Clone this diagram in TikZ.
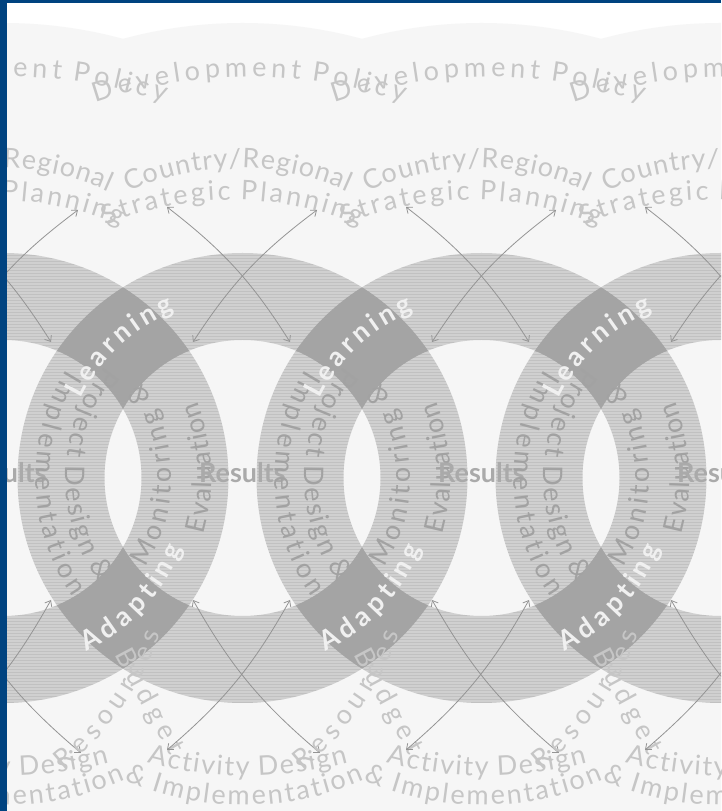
\documentclass[tikz,border=0pt]{standalone}
\usepackage{fontspec}
\setmainfont{Lato}
\usetikzlibrary{decorations.text, arrows.meta}

\definecolor{frameblue}{RGB}{0,67,128}
\definecolor{hazegray}{RGB}{246,246,246}
\definecolor{bandgray}{RGB}{208,208,208}
\definecolor{overlapgray}{RGB}{164,164,164}
\definecolor{toptxt}{RGB}{198,198,198}
\definecolor{bandtxt}{RGB}{162,162,162}
\definecolor{diamondtxt}{RGB}{240,240,240}
\definecolor{resulttxt}{RGB}{170,170,170}
\definecolor{arrowgray}{RGB}{148,148,148}

\newcommand\sz{\fontsize{27}{30}\selectfont}
% tracking between letters on the arcs
\newcommand\trackgap{0pt}
\newcommand\tr{\kern\trackgap}
% annulus: outer circle anticlockwise, inner circle clockwise
\newcommand\annulus[1]{(#1,333) circle (225) ({#1+138},333) arc[start angle=0, end angle=-360, radius=138]}

\begin{document}
\begin{tikzpicture}[x=1pt, y=1pt,
    band/.style={fill=bandgray},
    overlap/.style={fill=overlapgray},
    hatch/.style={draw=black, opacity=0.07, line width=1pt},
    loop/.style={<->, >={Straight Barb[length=5pt, width=8pt]}, draw=arrowgray, line width=0.8pt},
    arctext/.style={decorate, decoration={text along path, text align=center, text color=#1}}]

    \useasboundingbox (0,0) rectangle (721,811);
    \clip (0,0) rectangle (721,811);
    \fill[white] (0,0) rectangle (721,811);

    % 1. faint haze round the chain
    \foreach \k in {-1,...,2}
        \fill[hazegray] ({242.5+239*\k},333) circle (455);

    % 2. the ring bands, one ring every 239pt
    \foreach \k in {-1,...,2} {
        \pgfmathsetmacro\cx{242.5+239*\k}
        \fill[band] \annulus{\cx};
    }

    % horizontal hatching inside each band
    \foreach \k in {-1,...,2} {
        \pgfmathsetmacro\cx{242.5+239*\k}
        \begin{scope}
            \clip \annulus{\cx};
            \foreach \yy in {108,111,...,558}
                \draw[hatch] (\cx-225,\yy) -- (\cx+225,\yy);
        \end{scope}
    }

    % 3. darker overlap of two neighbouring rings (Learning / Adapting)
    \foreach \k in {-1,...,1} {
        \pgfmathsetmacro\cx{242.5+239*\k}
        \pgfmathsetmacro\nx{\cx+239}
        \begin{scope}
            \clip \annulus{\cx};
            \fill[overlap] \annulus{\nx};
        \end{scope}
    }

    % 4. texts and arrows of each ring
    \foreach \k in {-1,...,2} {
        \pgfmathsetmacro\cx{242.5+239*\k}
        \pgfmathsetmacro\px{\cx-239}
        \coordinate (ring\k) at (\cx,333);

        % texts on the bands
        \def\trackgap{2.4pt}
        \path[arctext=bandtxt, decoration={text={|\sz|P{\tr}r{\tr}o{\tr}j{\tr}e{\tr}c{\tr}t{\tr} D{\tr}e{\tr}s{\tr}i{\tr}g{\tr}n{\tr} {\&}}}]
            ([shift={(\cx,333)}]137:177) arc[start angle=137, end angle=219.5, radius=177];
        \def\trackgap{4.2pt}
        \path[arctext=bandtxt, decoration={text={|\sz|I{\tr}m{\tr}p{\tr}l{\tr}e{\tr}m{\tr}e{\tr}n{\tr}t{\tr}a{\tr}t{\tr}i{\tr}o{\tr}n}}]
            ([shift={(\cx,333)}]147:207) arc[start angle=147, end angle=216.5, radius=207];
        \def\trackgap{3.8pt}
        \path[arctext=bandtxt, decoration={text={|\sz|M{\tr}o{\tr}n{\tr}i{\tr}t{\tr}o{\tr}r{\tr}i{\tr}n{\tr}g{\tr} {\&}}}]
            ([shift={(\cx,333)}]-35.8:168) arc[start angle=-35.8, end angle=38.2, radius=168];
        \def\trackgap{1.2pt}
        \path[arctext=bandtxt, decoration={text={|\sz|E{\tr}v{\tr}a{\tr}l{\tr}u{\tr}a{\tr}t{\tr}i{\tr}o{\tr}n}}]
            ([shift={(\cx,333)}]-19:208) arc[start angle=-19, end angle=25, radius=208];

        % texts in the dark overlaps
        \def\trackgap{4pt}
        \path[arctext=diamondtxt, decoration={text={|\sz\bfseries|L{\tr}e{\tr}a{\tr}r{\tr}n{\tr}i{\tr}n{\tr}g}}]
            ([shift={(\cx,333)}]158:180) arc[start angle=158, end angle=108, radius=180];
        \def\trackgap{5pt}
        \path[arctext=diamondtxt, decoration={text={|\sz\bfseries|A{\tr}d{\tr}a{\tr}p{\tr}t{\tr}i{\tr}n{\tr}g}}]
            ([shift={(\px,333)}]-70:192) arc[start angle=-70, end angle=-16, radius=192];

        \node[text=resulttxt, font=\sz\bfseries] (res\k) at (\cx,338) {Results};

        % texts above the rings
        \def\trackgap{4.6pt}
        \path[arctext=toptxt, decoration={text={|\sz|D{\tr}e{\tr}v{\tr}e{\tr}l{\tr}o{\tr}p{\tr}m{\tr}e{\tr}n{\tr}t{\tr} P{\tr}o{\tr}l{\tr}i{\tr}c{\tr}y}}]
            ([shift={(\cx+7,254)}]111:480) arc[start angle=111, end angle=69, radius=480];
        \def\trackgap{1pt}
        \path[arctext=toptxt, decoration={text={|\sz|C{\tr}o{\tr}u{\tr}n{\tr}t{\tr}r{\tr}y{\tr}/{\tr}R{\tr}e{\tr}g{\tr}i{\tr}o{\tr}n{\tr}a{\tr}l}}]
            ([shift={(\cx-4.5,378)}]118:265) arc[start angle=118, end angle=62, radius=265];
        \def\trackgap{2.9pt}
        \path[arctext=toptxt, decoration={text={|\sz|S{\tr}t{\tr}r{\tr}a{\tr}t{\tr}e{\tr}g{\tr}i{\tr}c{\tr} P{\tr}l{\tr}a{\tr}n{\tr}n{\tr}i{\tr}n{\tr}g}}]
            ([shift={(\cx-10,281)}]115:330) arc[start angle=115, end angle=65, radius=330];

        % texts below the rings
        \def\trackgap{1.8pt}
        \path[arctext=toptxt, decoration={text={|\sz|A{\tr}c{\tr}t{\tr}i{\tr}v{\tr}i{\tr}t{\tr}y{\tr} D{\tr}e{\tr}s{\tr}i{\tr}g{\tr}n}}]
            ([shift={(\cx+5,415)}]-108:380) arc[start angle=-108, end angle=-72, radius=380];
        \def\trackgap{2.4pt}
        \path[arctext=toptxt, decoration={text={|\sz|{\&}{\tr} I{\tr}m{\tr}p{\tr}l{\tr}e{\tr}m{\tr}e{\tr}n{\tr}t{\tr}a{\tr}t{\tr}i{\tr}o{\tr}n}}]
            ([shift={(\cx+2,306)}]-117:300) arc[start angle=-117, end angle=-63, radius=300];
        \def\trackgap{6pt}
        \path[arctext=toptxt, decoration={text={|\sz|R{\tr}e{\tr}s{\tr}o{\tr}u{\tr}r{\tr}c{\tr}e{\tr}s}}]
            (\cx-186,35) .. controls (\cx-140,68) and (\cx-92,134) .. (\cx-80,186);
        \path[arctext=toptxt, decoration={text={|\sz|B{\tr}u{\tr}d{\tr}g{\tr}e{\tr}t}}]
            (\cx-134,168) .. controls (\cx-114,130) and (\cx-88,82) .. (\cx-66,44);

        % arrows between the planning texts and the hole
        \coordinate (tl\k) at (\cx-75.5,604);
        \coordinate (tr\k) at (\cx+74.5,601);
        \coordinate (hl\k) at (\cx-49.5,469);
        \coordinate (hr\k) at (\cx+47.5,469);
        \draw[loop] (hl\k) to[bend left=10] (tr\k);
        \draw[loop] (hr\k) to[bend right=10] (tl\k);

        \coordinate (bl\k) at (\cx-49.5,211);
        \coordinate (br\k) at (\cx+47.5,211);
        \coordinate (dl\k) at (\cx-75.5,61);
        \coordinate (dr\k) at (\cx+77.5,58);
        \draw[loop] (bl\k) to[bend right=10] (dr\k);
        \draw[loop] (br\k) to[bend left=10] (dl\k);
    }

    % 5. blue frame on the left and top
    \fill[frameblue] (0,0) rectangle (7,811);
    \fill[frameblue] (0,808) rectangle (721,811);
\end{tikzpicture}
\end{document}
